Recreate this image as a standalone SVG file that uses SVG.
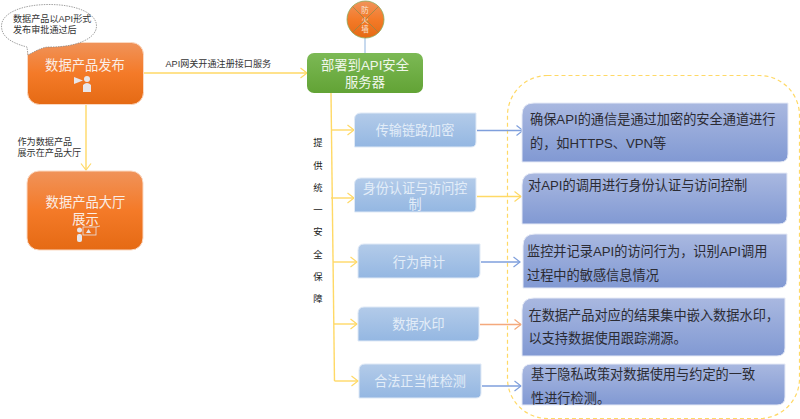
<svg xmlns="http://www.w3.org/2000/svg" width="800" height="419" viewBox="0 0 800 419">
<style>
text{font-family:"Liberation Sans","Noto Sans CJK SC",sans-serif;}
.w{fill:#fbeee6;text-anchor:middle;font-size:13.3px}
.b{fill:#e3edf8;text-anchor:middle;font-size:13.1px}
.g{fill:#f0f7ea;text-anchor:middle;font-size:13.3px}
.d{fill:#2b2b33;font-size:13.2px}
.s{fill:#333;font-size:9.1px}
.v{fill:#222;font-size:9.4px;text-anchor:middle}
.y{stroke:#ffd966;stroke-width:1.4;fill:none}
.bl{stroke:#7f9fdc;stroke-width:1.3;fill:none}
.or{fill:url(#og);stroke:#fbd9c2;stroke-width:1}
.blue{fill:url(#bg);stroke:#dfe9f6;stroke-width:1}
.pur{fill:url(#pg);stroke:#e6eaf6;stroke-width:1}
.ic{fill:#e8e6ea}
</style>
<defs>
<linearGradient id="og" x1="0" y1="0" x2="0" y2="1"><stop offset="0" stop-color="#f0935a"/><stop offset=".5" stop-color="#f47a28"/><stop offset="1" stop-color="#e56a14"/></linearGradient>
<linearGradient id="gg" x1="0" y1="0" x2="0" y2="1"><stop offset="0" stop-color="#7cb955"/><stop offset="1" stop-color="#62a335"/></linearGradient>
<linearGradient id="bg" x1="0" y1="0" x2="0" y2="1"><stop offset="0" stop-color="#b3cbe9"/><stop offset="1" stop-color="#94b7e2"/></linearGradient>
<linearGradient id="pg" x1="0" y1="0" x2="0" y2="1"><stop offset="0" stop-color="#a9b8e0"/><stop offset="1" stop-color="#8199d3"/></linearGradient>
<marker id="ay" markerUnits="userSpaceOnUse" markerWidth="10" markerHeight="12" refX="7.500" refY="6" orient="auto"><path d="M1 1L7.500 6L1 11" fill="none" stroke="#ffd966" stroke-width="1.200"/></marker>
<marker id="ab" markerUnits="userSpaceOnUse" markerWidth="10" markerHeight="12" refX="7.500" refY="6" orient="auto"><path d="M1 1L7.500 6L1 11" fill="none" stroke="#7f9fdc" stroke-width="1.200"/></marker>
<marker id="ao" markerUnits="userSpaceOnUse" markerWidth="10" markerHeight="12" refX="7.500" refY="6" orient="auto"><path d="M1 1L7.500 6L1 11" fill="none" stroke="#f4a97c" stroke-width="1.200"/></marker>
</defs>

<g id="dashed-frame"><rect x="507.500" y="75.500" width="292" height="343" rx="40" fill="none" stroke="#ffd966" stroke-width="1.200" stroke-dasharray="4 3"/></g>

<g id="connectors">
<path class="y" d="M143 73H307" marker-end="url(#ay)"/>
<path class="y" d="M86 104V170" marker-end="url(#ay)"/>
<path d="M365 38V53" stroke="#b5cde9" stroke-width="1.500" fill="none"/>
<path class="y" d="M331 93L334.500 381"/>
<path class="y" d="M331.500 130H354" marker-end="url(#ay)"/>
<path class="y" d="M331 198H354" marker-end="url(#ay)"/>
<path class="y" d="M333 262H357" marker-end="url(#ay)"/>
<path class="y" d="M334 324H357" marker-end="url(#ay)"/>
<path class="y" d="M334.500 381H358" marker-end="url(#ay)"/>
<path class="bl" d="M477 130.500H523" marker-end="url(#ab)"/>
<path class="y" d="M477 196.500H521" marker-end="url(#ay)"/>
<path class="bl" d="M481 262H520" marker-end="url(#ab)"/>
<path d="M480 324.500H521" fill="none" stroke="#f4a97c" stroke-width="1.300" marker-end="url(#ao)"/>
<path class="bl" d="M482 386H521" marker-end="url(#ab)"/>
</g>

<g id="node-publish">
<rect class="or" x="27.500" y="42.500" width="116" height="62" rx="12"/>
<text class="w" x="85" y="70">数据产品发布</text>
<path class="ic" d="M74 77L83 80.500L74 84Z"/>
<circle class="ic" cx="87" cy="79" r="3"/>
<path class="ic" d="M83 92V85Q87 81 91 85V92Z"/>
</g>

<g id="node-callout">
<path d="M28 55L27 47C8 42 1.500 35 1.500 26C1.500 13 22 4.500 49 4.500C76 4.500 96.500 13 96.500 26C96.500 38 78 47 50 47C44 47 41 48 28 55Z" fill="#fff" stroke="#8a8a8a" stroke-width="0.800" stroke-dasharray="1.500 1"/>
<text class="s" x="13" y="22">数据产品以API形式</text>
<text class="s" x="13" y="33">发布审批通过后</text>
</g>

<g id="node-hall">
<rect class="or" x="27" y="171" width="116" height="79" rx="12"/>
<text class="w" x="85.500" y="207">数据产品大厅</text>
<text class="w" x="85.500" y="224">展示</text>
<circle class="ic" cx="79.500" cy="230" r="2.500"/>
<rect class="ic" x="77" y="234" width="5" height="8" rx="2"/>
<rect x="83" y="227" width="13" height="8" fill="none" stroke="#e8e6ea" stroke-width="0.800"/>
<path class="ic" d="M86 233L88.500 229L91 233Z"/>
<path d="M96 227L100 226" stroke="#e8e6ea" stroke-width="0.800"/>
</g>

<g id="node-firewall">
<circle cx="365.500" cy="19.500" r="18.500" fill="url(#og)" stroke="#8aa85a" stroke-width="0.800"/>
<path d="M352.500 6.500L378.500 32.500M378.500 6.500L352.500 32.500" stroke="#8a8a4a" stroke-width="0.700"/>
<text x="365" y="13" fill="#f8e6da" font-size="7.500" text-anchor="middle">防</text>
<text x="365" y="22.500" fill="#f8e6da" font-size="7.500" text-anchor="middle">火</text>
<text x="365" y="31.500" fill="#f8e6da" font-size="7.500" text-anchor="middle">墙</text>
</g>

<g id="node-server">
<rect x="307" y="53" width="116" height="40" rx="7" fill="url(#gg)"/>
<text class="g" x="365" y="70">部署到API安全</text>
<text class="g" x="365" y="87">服务器</text>
</g>

<g id="label-publish"><text class="s" x="165.500" y="67">API网关开通注册接口服务</text></g>
<g id="label-hall"><text class="s" x="17.500" y="145">作为数据产品</text><text class="s" x="17.500" y="156">展示在产品大厅</text></g>
<g id="label-guarantee">
<text class="v" x="318" y="146">提</text><text class="v" x="318" y="169">供</text><text class="v" x="318" y="191">统</text><text class="v" x="318" y="213">一</text><text class="v" x="318" y="235">安</text><text class="v" x="318" y="258">全</text><text class="v" x="318" y="280">保</text><text class="v" x="318" y="302">障</text>
</g>

<g id="node-b1"><path class="blue" d="M361 113H476V142Q476 147 471 147H354.500V119.500Q354.500 113 361 113Z"/><text class="b" x="415" y="135">传输链路加密</text></g>
<g id="node-b2"><path class="blue" d="M361 178H476V207Q476 212 471 212H354.500V184.500Q354.500 178 361 178Z"/><text class="b" x="415" y="193">身份认证与访问控</text><text class="b" x="415" y="208.500">制</text></g>
<g id="node-b3"><path class="blue" d="M364 244H480V273Q480 278 475 278H358V250.500Q358 244 364 244Z"/><text class="b" x="419" y="267">行为审计</text></g>
<g id="node-b4"><path class="blue" d="M364 307H479V336Q479 341 474 341H358V313.500Q358 307 364 307Z"/><text class="b" x="418.500" y="329">数据水印</text></g>
<g id="node-b5"><path class="blue" d="M365 364H481V393Q481 398 476 398H359V370.500Q359 364 365 364Z"/><text class="b" x="420" y="386">合法正当性检测</text></g>

<g id="node-p1"><path class="pur" d="M534 103H788V154Q788 162 780 162H522V115Q522 103 534 103Z"/><text class="d" x="530" y="124">确保API的通信是通过加密的安全通道进行</text><text class="d" x="530" y="148">的，如HTTPS、VPN等</text></g>
<g id="node-p2"><path class="pur" d="M534 173H787V216Q787 224 779 224H522V185Q522 173 534 173Z"/><text class="d" x="528" y="190">对API的调用进行身份认证与访问控制</text></g>
<g id="node-p3"><path class="pur" d="M535 234H787V280Q787 288 779 288H523V246Q523 234 535 234Z"/><text class="d" x="527" y="256">监控并记录API的访问行为，识别API调用</text><text class="d" x="527" y="280">过程中的敏感信息情况</text></g>
<g id="node-p4"><path class="pur" d="M534 298H785V348Q785 356 777 356H522V310Q522 298 534 298Z"/><text class="d" x="528.500" y="320">在数据产品对应的结果集中嵌入数据水印，</text><text class="d" x="528.500" y="343">以支持数据使用跟踪溯源。</text></g>
<g id="node-p5"><path class="pur" d="M532 364H785V397Q785 405 777 405H522V374Q522 364 532 364Z"/><text class="d" x="531" y="379">基于隐私政策对数据使用与约定的一致</text><text class="d" x="531" y="403">性进行检测。</text></g>
</svg>
